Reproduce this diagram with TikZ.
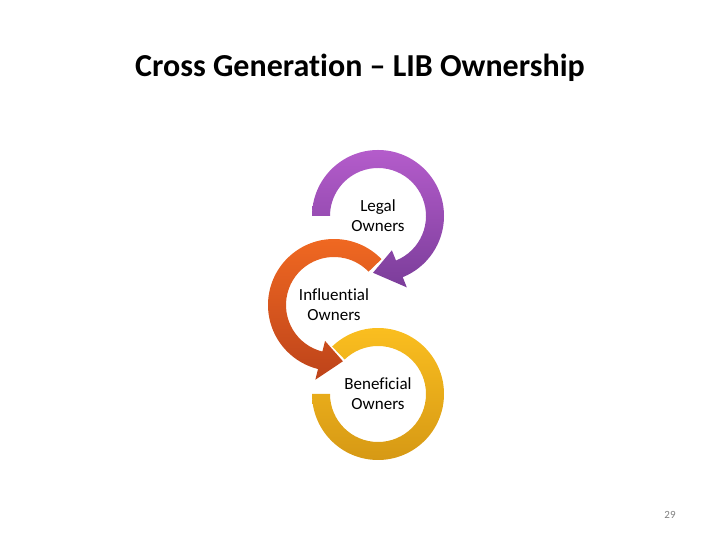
\documentclass[tikz,border=0pt]{standalone}
\usepackage{fontspec}
\setmainfont{Carlito}[Ligatures=NoCommon]
\usepackage{tkz-euclide}

\definecolor{plTop}{HTML}{B45CCB}
\definecolor{plBot}{HTML}{7B3D9A}
\definecolor{orTop}{HTML}{F26A22}
\definecolor{orBot}{HTML}{BD431A}
\definecolor{ylTop}{HTML}{FCC020}
\definecolor{ylBot}{HTML}{D49714}

\tikzset{ringtext/.style={align=center,font=\fontsize{17}{20}\selectfont}}

\begin{document}
\begin{tikzpicture}[x=1pt,y=1pt]
                \useasboundingbox (0,0) rectangle (720,540);
                \tkzDefPoints{378/324/L,334/235/I,378/146/B}
                % Beneficial (no head)
                \shade[top color=ylTop,bottom color=ylBot]
                  ([shift={(134:66)}]B) arc[start angle=134,end angle=-180,radius=66]
                  -- ([shift={(180:48)}]B) arc[start angle=-180,end angle=134,radius=48] -- cycle;
                % Influential
                \shade[top color=orTop,bottom color=orBot]
                  ([shift={(44:66)}]I) arc[start angle=44,end angle=256,radius=66]
                  -- ([shift={(256:77)}]I) -- ([shift={(279:57)}]I) -- ([shift={(256:37)}]I)
                  -- ([shift={(256:48)}]I) arc[start angle=256,end angle=44,radius=48] -- cycle;
                % Legal
                \shade[top color=plTop,bottom color=plBot]
                  ([shift={(180:66)}]L) arc[start angle=180,end angle=-68,radius=66]
                  -- ([shift={(-68:77)}]L) -- ([shift={(-95:57)}]L) -- ([shift={(-68:37)}]L)
                  -- ([shift={(-68:48)}]L) arc[start angle=-68,end angle=180,radius=48] -- cycle;
                \node[ringtext] (legal) at (L) {Legal\\Owners};
                \node[ringtext] (infl) at (I) {Influential\\Owners};
                \node[ringtext] (bene) at (B) {Beneficial\\Owners};
                \node[font=\bfseries\fontsize{32}{38}\selectfont] (title) at (360,472) {Cross Generation – LIB Ownership};
                \node[font=\fontsize{11}{13}\selectfont,text=gray] (pagenum) at (670,25) {29};
            \end{tikzpicture}
\end{document}
